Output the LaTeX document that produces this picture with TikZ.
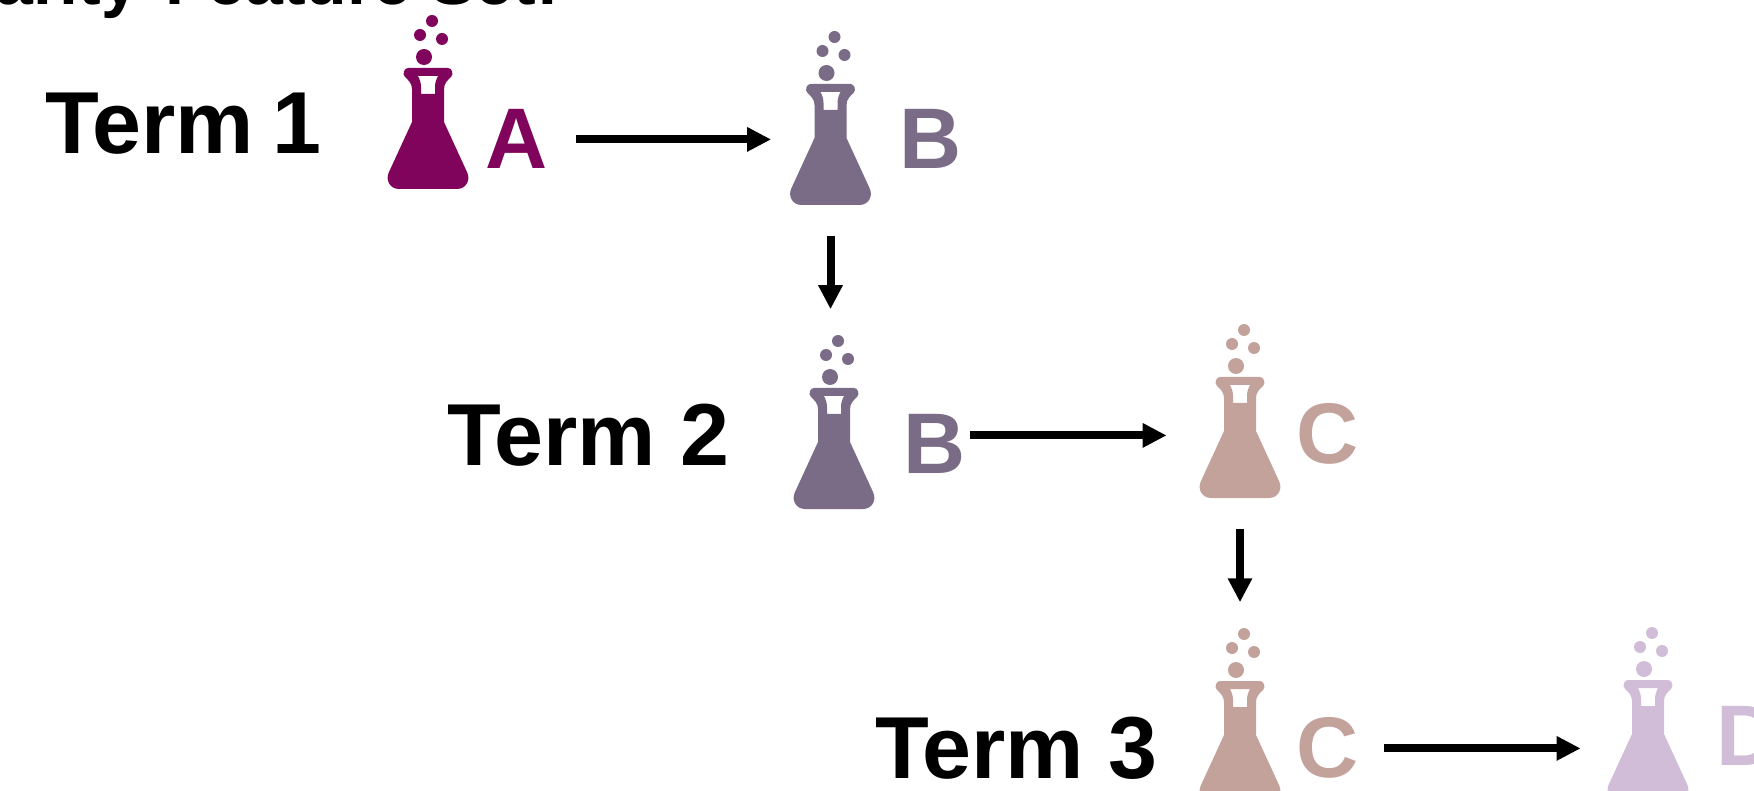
\documentclass[tikz,border=0pt]{standalone}
\usepackage{fontspec}
\setmainfont{Liberation Sans}
\usetikzlibrary{arrows.meta}

\definecolor{flaskA}{RGB}{128,4,92}
\definecolor{flaskB}{RGB}{122,107,135}
\definecolor{flaskC}{RGB}{195,162,156}
\definecolor{flaskD}{RGB}{209,189,216}

\tikzset{
  every picture/.style={line width=0.75pt},
  termtext/.style={font=\fontsize{88}{88}\selectfont\bfseries, anchor=base west, inner sep=0pt},
  labeltext/.style={font=\fontsize{86}{86}\selectfont\bfseries, anchor=base west, inner sep=0pt},
  headtext/.style={font=\fontsize{68}{68}\selectfont\bfseries, anchor=base west, inner sep=0pt},
  flowarrow/.style={line width=8pt, -{Triangle[length=24pt,width=23pt]}},
  downarrow/.style={flowarrow, shorten <=31pt, shorten >=18pt},
  flask/.pic={
    \node (box) [minimum width=80pt, minimum height=181pt, inner sep=0pt, anchor=south] at (0,0) {};
    \path [pic actions, even odd rule, yscale=-1] (-29,0) .. controls (-38,0) and (-43,-9) .. (-39,-17) -- (-16,-67) -- (-16,-100) .. controls (-16,-106) and (-20,-109) .. (-23,-112) .. controls (-26,-115) and (-24,-121) .. (-20,-121) -- (20,-121) .. controls (24,-121) and (26,-115) .. (23,-112) .. controls (20,-109) and (16,-106) .. (16,-100) -- (16,-67) -- (39,-17) .. controls (43,-9) and (38,0) .. (29,0) -- cycle
      (-10,-113) -- (10,-113) .. controls (8,-109) and (7,-106) .. (7,-102) -- (7,-95) -- (-7,-95) -- (-7,-102) .. controls (-7,-106) and (-8,-109) .. (-10,-113) -- cycle;
    \path [pic actions, yscale=-1] (-4,-132) circle (8) (-8,-154) circle (6) (14,-150) circle (6) (4,-168) circle (6);
  }
}

\begin{document}
\begin{tikzpicture}[x=1pt,y=1pt,yscale=-1,xscale=1]
\clip (0,0) rectangle (1754,791);

%Flasks
\pic [fill=flaskA] (flaskA) at (428,189) {flask};
\pic [fill=flaskB] (flaskBa) at (830.5,205) {flask};
\pic [fill=flaskB] (flaskBb) at (834,509) {flask};
\pic [fill=flaskC] (flaskCa) at (1240,498) {flask};
\pic [fill=flaskC] (flaskCb) at (1240,802) {flask};
\pic [fill=flaskD] (flaskD) at (1648,801) {flask};

% Text Node
\node [headtext] (heading) at (-5,5) {arity\hspace{8pt} Feature Set:};
% Text Node
\node [termtext] (termA) at (45,154) {Term\hspace{-6pt} 1};
\node [termtext] (termB) at (447,465) {Term 2};
\node [termtext] (termC) at (875,778) {Term 3};
% Text Node
\node [labeltext, text=flaskA] (labelA) at (485,169) {A};
\node [labeltext, text=flaskB] (labelBa) at (899,169) {B};
\node [labeltext, text=flaskB] (labelBb) at (903,473) {B};
\node [labeltext, text=flaskC] (labelCa) at (1296,464) {C};
\node [labeltext, text=flaskC] (labelCb) at (1296,777) {C};
\node [labeltext, text=flaskD] (labelD) at (1716,765) {D};

%Straight Lines
\draw [flowarrow, shorten <=28pt, shorten >=19pt] (labelA.east) -- (labelA.east -| flaskBabox.west);
\draw [flowarrow, shorten <=4pt, shorten >=33pt] ([yshift=-8pt]labelBb.east) -- ([yshift=-8pt]labelBb.east -| flaskCabox.west);
\draw [flowarrow, shorten <=25pt, shorten >=27pt] ([yshift=1pt]labelCb.east) -- ([yshift=1pt]labelCb.east -| flaskDbox.west);
\draw [downarrow] (flaskBabox.south) -- (flaskBabox.south |- flaskBbbox.north);
\draw [downarrow] (flaskCabox.south) -- (flaskCabox.south |- flaskCbbox.north);

\end{tikzpicture}
\end{document}
